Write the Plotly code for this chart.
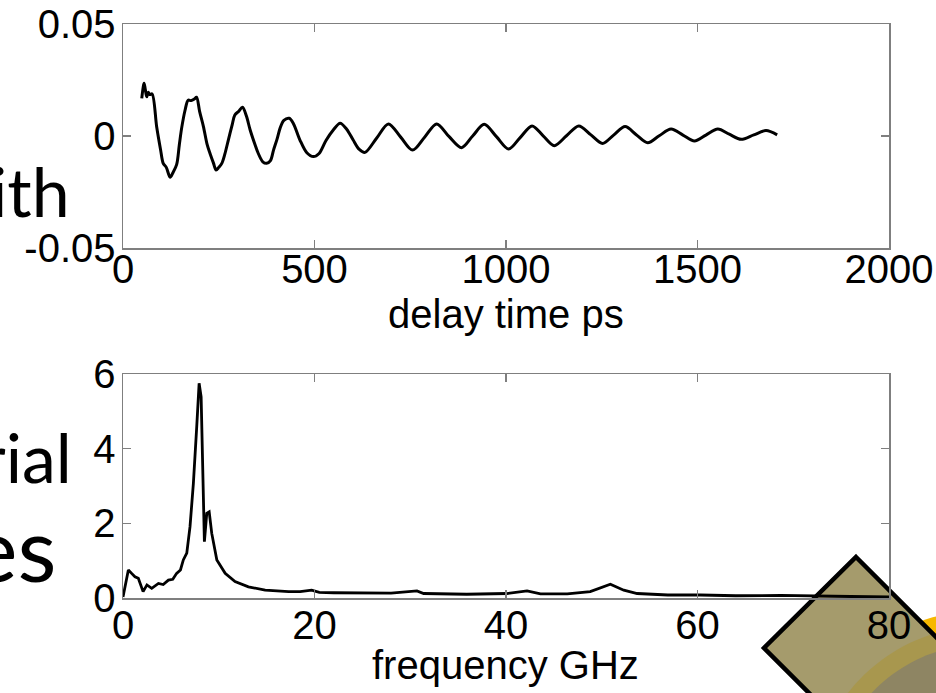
import math
import plotly.graph_objects as go

W, H = 936, 693

# ---------------- data ----------------
delay_ps = [49, 55, 58, 62, 66, 70, 76, 88, 98, 105, 113, 123, 130, 140, 147, 153, 162, 170,
            178, 186, 192, 200, 210, 220, 227, 236, 243, 250, 258, 266, 275, 285, 292, 302,
            312, 322, 332, 345, 353, 365, 375, 385, 393, 402, 410, 420, 434, 445, 462, 480,
            497, 512, 530, 549, 567, 584, 601, 617, 632, 662, 693, 725, 756, 788, 819, 851,
            884, 913, 943, 975, 1007, 1037, 1068, 1097, 1126, 1158, 1190, 1221, 1252, 1281,
            1311, 1340, 1370, 1400, 1431, 1462, 1492, 1522, 1553, 1583, 1614, 1647, 1679, 1708]
signal = [0.0168, 0.0235, 0.0210, 0.0175, 0.0195, 0.0185, 0.0188, 0.0040, -0.0060, -0.0122,
          -0.0140, -0.0184, -0.0165, -0.0128, -0.0040, 0.0034, 0.0115, 0.0160, 0.0158, 0.0165,
          0.0173, 0.0110, 0.0042, -0.0040, -0.0077, -0.0120, -0.0152, -0.0140, -0.0122,
          -0.0080, -0.0018, 0.0050, 0.0094, 0.0110, 0.0128, 0.0090, 0.0027, -0.0040, -0.0077,
          -0.0115, -0.0122, -0.0110, -0.0063, -0.0015, 0.0034, 0.0070, 0.0079, 0.0055,
          -0.0018, -0.0075, -0.0092, -0.0078, -0.0020, 0.0027, 0.0057, 0.0030, -0.0018,
          -0.0060, -0.0073, -0.0010, 0.0054, -0.0005, -0.0063, -0.0004, 0.0054, -0.0002,
          -0.0052, 0.0000, 0.0052, -0.0003, -0.0058, -0.0007, 0.0045, 0.0001, -0.0043,
          0.0001, 0.0045, 0.0006, -0.0033, 0.0004, 0.0042, 0.0006, -0.0030, 0.0001, 0.0031,
          0.0004, -0.0022, 0.0004, 0.0031, 0.0008, -0.0015, 0.0005, 0.0024, 0.0005]

freq_ghz = [0, 0.56, 0.9, 1.25, 1.6, 1.95, 2.1, 2.5, 3.0, 3.7, 4.2, 4.74, 5.2, 5.6, 6.0, 6.3,
            6.66, 7.0, 7.35, 7.7, 7.95, 8.16, 8.33, 8.5, 8.75, 9.0, 9.27, 9.8, 10.67, 11.7,
            13.1, 14.85, 17.3, 18.5, 19.7, 20.5, 22, 25.5, 28, 30.7, 31.4, 35.9, 40.1, 42.2,
            43.6, 46.4, 48.8, 50.9, 52.3, 53.7, 56.9, 60.3, 64, 68.7, 72, 76, 80]
amplitude = [0.03, 0.75, 0.66, 0.57, 0.53, 0.30, 0.17, 0.35, 0.26, 0.39, 0.36, 0.48, 0.50,
             0.66, 0.75, 1.02, 1.20, 1.91, 3.07, 4.59, 5.75, 5.39, 3.70, 1.51, 2.27, 2.31,
             1.73, 1.02, 0.66, 0.44, 0.30, 0.21, 0.17, 0.17, 0.21, 0.15, 0.14, 0.13, 0.13,
             0.19, 0.12, 0.10, 0.12, 0.19, 0.11, 0.11, 0.17, 0.37, 0.21, 0.12, 0.08, 0.08,
             0.06, 0.07, 0.05, 0.04, 0.03]

x1_ticks = [0, 500, 1000, 1500, 2000]
y1_ticks = [-0.05, 0, 0.05]
y1_labels = ["-0.05", "0", "0.05"]
x2_ticks = [0, 20, 40, 60, 80]
y2_ticks = [0, 2, 4, 6]
x1_title = "delay time ps"
x2_title = "frequency GHz"

side_texts = ["ith", "rial", "es"]


def px(x):
    return x / W


def py(y):
    return 1 - y / H


# ---------------- figure ----------------
fig = go.Figure()
fig.add_trace(go.Scatter(x=delay_ps, y=signal, mode="lines", xaxis="x", yaxis="y",
                         line=dict(color="black", width=3, shape="spline", smoothing=0.9),
                         showlegend=False, hoverinfo="skip"))
fig.add_trace(go.Scatter(x=freq_ghz, y=amplitude, mode="lines", xaxis="x2", yaxis="y2",
                         line=dict(color="black", width=2.8),
                         showlegend=False, hoverinfo="skip"))

tick_font = dict(family="Liberation Sans, Arial, sans-serif", size=40, color="black")
common = dict(showline=True, mirror="ticks", linecolor="#7f7f7f", linewidth=1.5,
              ticks="inside", ticklen=8, tickwidth=1.3, tickcolor="#7f7f7f",
              showgrid=False, zeroline=False, tickfont=tick_font, automargin=False,
              ticklabeloverflow="allow", fixedrange=True)

xdom = [px(123), px(889)]
fig.update_layout(
    template="none",
    width=W, height=H,
    margin=dict(l=0, r=0, t=0, b=0),
    paper_bgcolor="white",
    plot_bgcolor="rgba(0,0,0,0)",
    xaxis=dict(domain=xdom, range=[0, 2000], tickmode="array", tickvals=x1_ticks,
               ticklabelstandoff=-15, anchor="y", **common),
    yaxis=dict(domain=[py(248), py(24)], range=[-0.05, 0.05], tickmode="array",
               tickvals=y1_ticks, ticktext=y1_labels, ticklabelstandoff=-2, anchor="x",
               **common),
    xaxis2=dict(domain=xdom, range=[0, 80], tickmode="array", tickvals=x2_ticks,
                ticklabelstandoff=-9, anchor="y2", **common),
    yaxis2=dict(domain=[py(598), py(374)], range=[0, 6], tickmode="array",
                tickvals=y2_ticks, ticklabelstandoff=-2, anchor="x2", **common),
)

# axis titles
for txt, (tx, ty) in zip([x1_title, x2_title], [(506, 314), (505, 665)]):
    fig.add_annotation(text=txt, xref="paper", yref="paper", x=px(tx), y=py(ty),
                       xanchor="center", yanchor="middle", showarrow=False, font=tick_font)

# ---------------- slide fragments (text) ----------------
side_pos = [(72, 190, 68), (74, 457, 68), (59, 547, 90)]
for txt, (tx, ty, fs) in zip(side_texts, side_pos):
    fig.add_annotation(text=txt, xref="paper", yref="paper", x=px(tx), y=py(ty),
                       xanchor="right", yanchor="middle", showarrow=False,
                       font=dict(family="Lato, Noto Sans, sans-serif", size=fs, color="black"))


# ---------------- decorative diamond in the corner ----------------
def path_of(pts):
    return "M " + " L ".join(f"{px(x):.5f},{py(y):.5f}" for x, y in pts) + " Z"


def circle_pts(cx, cy, r, n=180):
    return [(cx + r * math.cos(2 * math.pi * k / n), cy + r * math.sin(2 * math.pi * k / n))
            for k in range(n)]


def clip(subject, clipper):
    n = len(clipper)
    area = sum(clipper[i][0] * clipper[(i + 1) % n][1] - clipper[(i + 1) % n][0] * clipper[i][1]
               for i in range(n))
    sgn = 1 if area > 0 else -1

    def inside(p, a, b):
        return sgn * ((b[0] - a[0]) * (p[1] - a[1]) - (b[1] - a[1]) * (p[0] - a[0])) >= 0

    def inter(s, e, a, b):
        x1, y1 = s
        x2, y2 = e
        x3, y3 = a
        x4, y4 = b
        den = (x1 - x2) * (y3 - y4) - (y1 - y2) * (x3 - x4)
        t = ((x1 - x3) * (y3 - y4) - (y1 - y3) * (x3 - x4)) / den
        return (x1 + t * (x2 - x1), y1 + t * (y2 - y1))

    out = list(subject)
    for i in range(n):
        a, b = clipper[i], clipper[(i + 1) % n]
        inp, out = out, []
        if not inp:
            break
        s = inp[-1]
        for e in inp:
            if inside(e, a, b):
                if not inside(s, a, b):
                    out.append(inter(s, e, a, b))
                out.append(e)
            elif inside(s, a, b):
                out.append(inter(s, e, a, b))
            s = e
    return out


diamond = [(856, 557), (1006, 707), (914, 798), (764, 648)]
cx, cy = 985, 800

shapes = [
    dict(type="path", path=path_of(circle_pts(cx, cy, 190)), xref="paper", yref="paper",
         fillcolor="#f7b800", line=dict(width=0), layer="below"),
    dict(type="path", path=path_of(diamond), xref="paper", yref="paper",
         fillcolor="#a59b6c", line=dict(width=0), layer="below"),
    dict(type="path", path=path_of(clip(circle_pts(cx, cy, 174), diamond)),
         xref="paper", yref="paper", fillcolor="#a8974e", line=dict(width=0), layer="below"),
    dict(type="path", path=path_of(clip(circle_pts(cx, cy, 156), diamond)),
         xref="paper", yref="paper", fillcolor="#8e8563", line=dict(width=0), layer="below"),
    dict(type="path", path=path_of(diamond), xref="paper", yref="paper",
         fillcolor="rgba(0,0,0,0)", line=dict(color="black", width=4.5), layer="below"),
]
fig.update_layout(shapes=shapes)

fig.write_html("out.html",
               config={"displayModeBar": False, "staticPlot": True},
               post_script="document.body.style.margin='0';"
                           "document.body.style.overflow='hidden';")
